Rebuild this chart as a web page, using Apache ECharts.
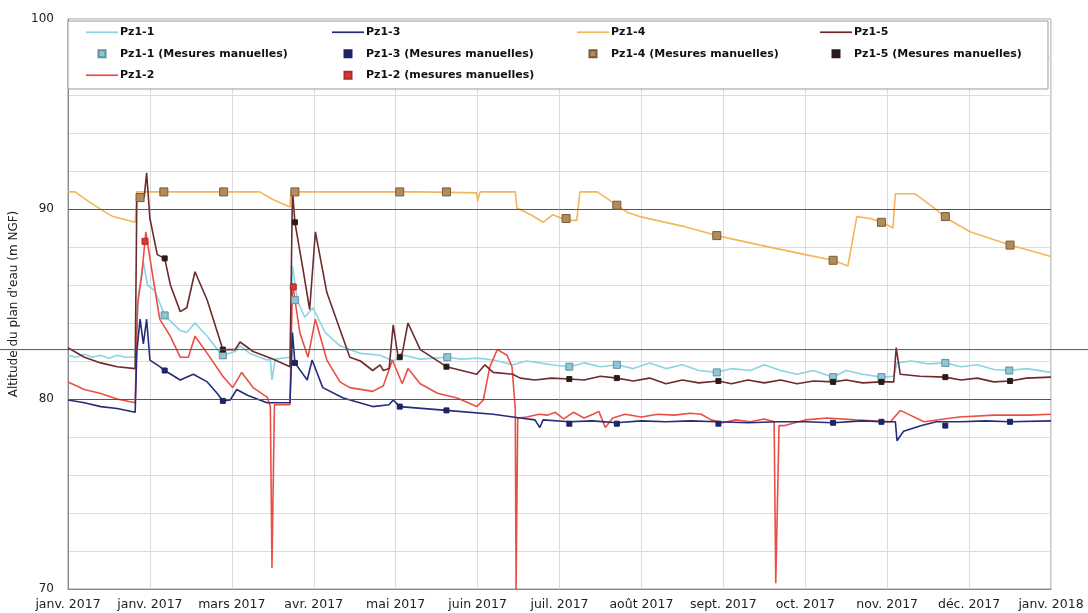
<!DOCTYPE html>
<html><head><meta charset="utf-8">
<script src="https://cdn.jsdelivr.net/npm/echarts@6/dist/echarts.min.js"></script>
<style>html,body{margin:0;padding:0;background:#fff}#c{width:1088px;height:613px}</style>
</head><body><div id="c"></div>
<script>
// ---- data (x in months from the axis origin, y in m NGF) ----
const xLabels = ['janv. 2017','janv. 2017','mars 2017','avr. 2017','mai 2017','juin 2017','juil. 2017','août 2017','sept. 2017','oct. 2017','nov. 2017','déc. 2017','janv. 2018'];
const yRange = [70, 100];
const darkLevels = [80, 90];
const crossLevel = 82.6;

const pz11 = [[0,82.3],[0.1,82.2],[0.2,82.35],[0.3,82.2],[0.4,82.3],[0.5,82.15],[0.6,82.3],[0.7,82.2],[0.82,82.2],[0.86,85.5],[0.92,87.2],[0.97,86.0],[1.06,85.7],[1.18,84.4],[1.37,83.6],[1.45,83.5],[1.55,84.0],[1.70,83.3],[1.86,82.4],[1.89,82.3],[2.04,82.5],[2.10,82.8],[2.22,82.4],[2.43,82.05],[2.47,82.1],[2.49,81.0],[2.53,82.1],[2.71,82.2],[2.74,87.0],[2.80,85.2],[2.89,84.3],[2.99,84.8],[3.14,83.5],[3.32,82.8],[3.57,82.4],[3.81,82.3],[3.97,82.0],[4.1,82.3],[4.30,82.1],[4.63,82.2],[4.8,82.1],[5.0,82.15],[5.19,82.05],[5.43,81.8],[5.6,82.0],[5.76,81.9],[5.9,81.8],[6.12,81.7],[6.3,81.9],[6.5,81.7],[6.70,81.8],[6.9,81.6],[7.1,81.9],[7.3,81.6],[7.5,81.8],[7.7,81.5],[7.92,81.4],[8.1,81.6],[8.33,81.5],[8.5,81.8],[8.7,81.5],[8.9,81.3],[9.1,81.5],[9.34,81.15],[9.5,81.5],[9.7,81.3],[9.93,81.15],[10.08,81.2],[10.12,81.9],[10.3,82.0],[10.5,81.85],[10.71,81.9],[10.9,81.7],[11.1,81.8],[11.3,81.55],[11.49,81.5],[11.7,81.6],[12,81.4]];
const pz13 = [[0,79.95],[0.2,79.8],[0.4,79.6],[0.6,79.5],[0.82,79.3],[0.84,82.5],[0.88,84.2],[0.92,82.9],[0.96,84.2],[1.0,82.05],[1.12,81.7],[1.18,81.5],[1.37,81.0],[1.53,81.3],[1.70,80.9],[1.82,80.3],[1.89,79.9],[1.98,79.95],[2.06,80.5],[2.19,80.2],[2.43,79.8],[2.71,79.8],[2.74,83.5],[2.77,81.9],[2.92,81.0],[2.98,82.05],[3.11,80.6],[3.36,80.05],[3.72,79.6],[3.92,79.7],[3.97,79.95],[4.05,79.6],[4.62,79.4],[5.19,79.2],[5.52,79.0],[5.70,78.9],[5.76,78.5],[5.80,78.9],[6.12,78.8],[6.4,78.85],[6.70,78.75],[7.0,78.85],[7.3,78.8],[7.6,78.85],[7.92,78.8],[8.3,78.75],[8.67,78.8],[9.0,78.8],[9.34,78.75],[9.7,78.85],[9.93,78.8],[10.1,78.8],[10.12,77.8],[10.2,78.3],[10.42,78.6],[10.6,78.8],[10.9,78.8],[11.2,78.85],[11.5,78.8],[12,78.85]];
const pz14 = [[0,90.9],[0.085,90.9],[0.25,90.4],[0.43,89.9],[0.55,89.6],[0.82,89.3],[0.84,90.9],[2.34,90.9],[2.5,90.5],[2.71,90.1],[2.72,90.9],[4.3,90.9],[4.99,90.85],[5.0,90.4],[5.03,90.9],[5.46,90.9],[5.48,90.05],[5.65,89.7],[5.80,89.3],[5.92,89.7],[6.09,89.4],[6.21,89.4],[6.25,90.9],[6.46,90.9],[6.84,89.8],[6.98,89.6],[7.5,89.1],[7.92,88.6],[8.45,88.1],[9.0,87.6],[9.34,87.3],[9.52,87.0],[9.63,89.6],[9.79,89.5],[9.94,89.3],[10.07,89.0],[10.10,90.8],[10.34,90.8],[10.56,90.1],[10.73,89.5],[11.01,88.8],[11.50,88.1],[12,87.5]];
const pz15 = [[0,82.7],[0.2,82.2],[0.4,81.9],[0.6,81.7],[0.82,81.6],[0.84,90.5],[0.90,90.8],[0.93,90.6],[0.96,91.9],[1.0,89.5],[1.09,87.6],[1.18,87.4],[1.25,86.0],[1.37,84.6],[1.45,84.8],[1.55,86.7],[1.70,85.2],[1.89,82.6],[2.04,82.6],[2.10,83.0],[2.26,82.5],[2.50,82.1],[2.71,81.7],[2.74,91.0],[2.77,89.3],[2.87,86.8],[2.95,84.7],[3.02,88.8],[3.16,85.6],[3.44,82.2],[3.57,82.0],[3.72,81.5],[3.81,81.8],[3.85,81.5],[3.92,81.6],[3.97,83.9],[4.03,82.2],[4.08,82.4],[4.15,84.0],[4.30,82.6],[4.62,81.7],[4.99,81.3],[5.09,81.8],[5.19,81.4],[5.43,81.3],[5.52,81.1],[5.7,81.0],[5.9,81.1],[6.12,81.05],[6.3,81.0],[6.5,81.2],[6.70,81.1],[6.9,80.95],[7.1,81.1],[7.3,80.8],[7.5,81.0],[7.7,80.85],[7.94,80.95],[8.1,80.8],[8.3,81.0],[8.5,80.85],[8.7,81.0],[8.9,80.8],[9.1,80.95],[9.34,80.9],[9.5,81.0],[9.7,80.85],[9.93,80.9],[10.08,80.9],[10.11,82.7],[10.16,81.3],[10.4,81.2],[10.71,81.15],[10.9,81.0],[11.1,81.1],[11.3,80.9],[11.50,80.95],[11.7,81.1],[12,81.15]];
const pz12 = [[0,80.9],[0.2,80.5],[0.39,80.3],[0.6,80.0],[0.82,79.8],[0.85,85.0],[0.90,86.5],[0.95,88.8],[1.03,86.6],[1.12,84.2],[1.25,83.3],[1.37,82.2],[1.47,82.2],[1.55,83.3],[1.70,82.4],[1.89,81.2],[2.01,80.6],[2.12,81.4],[2.26,80.6],[2.43,80.1],[2.47,79.6],[2.49,71.1],[2.52,79.7],[2.71,79.7],[2.74,86.1],[2.83,83.5],[2.93,82.2],[3.02,84.2],[3.16,82.05],[3.32,80.9],[3.44,80.6],[3.72,80.4],[3.85,80.7],[3.96,82.05],[4.08,80.8],[4.15,81.6],[4.30,80.8],[4.51,80.3],[4.75,80.05],[4.99,79.6],[5.07,79.95],[5.15,81.7],[5.24,82.6],[5.36,82.3],[5.42,81.7],[5.46,79.5],[5.47,70.0],[5.49,79.0],[5.60,79.05],[5.75,79.2],[5.85,79.15],[5.95,79.3],[6.05,78.95],[6.17,79.3],[6.3,79.0],[6.41,79.2],[6.48,79.35],[6.56,78.5],[6.65,79.0],[6.8,79.2],[7.0,79.05],[7.2,79.2],[7.4,79.15],[7.6,79.25],[7.73,79.2],[7.85,78.9],[7.99,78.75],[8.15,78.9],[8.33,78.8],[8.5,78.95],[8.62,78.8],[8.64,70.3],[8.68,78.6],[8.75,78.6],[9.0,78.9],[9.27,79.0],[9.61,78.9],[10.04,78.8],[10.16,79.4],[10.28,79.15],[10.45,78.8],[10.88,79.05],[11.31,79.15],[11.73,79.15],[12,79.2]];

const pz11Man = [[1.18,84.4],[1.89,82.3],[2.77,85.2],[4.63,82.2],[6.12,81.7],[6.70,81.8],[7.92,81.4],[9.34,81.15],[9.93,81.15],[10.71,81.9],[11.49,81.5]];
const pz13Man = [[1.18,81.5],[1.89,79.9],[2.77,81.9],[4.05,79.6],[4.62,79.4],[6.12,78.7],[6.70,78.7],[7.94,78.7],[9.34,78.75],[9.93,78.8],[10.71,78.6],[11.50,78.8]];
const pz14Man = [[0.88,90.6],[1.17,90.9],[1.90,90.9],[2.77,90.9],[4.05,90.9],[4.62,90.9],[6.08,89.5],[6.70,90.2],[7.92,88.6],[9.34,87.3],[9.93,89.3],[10.71,89.6],[11.50,88.1]];
const pz15Man = [[1.18,87.4],[1.89,82.6],[2.77,89.3],[4.05,82.2],[4.62,81.7],[6.12,81.05],[6.70,81.1],[7.94,80.95],[9.34,80.9],[9.93,80.9],[10.71,81.15],[11.50,80.95]];
const pz12Man = [[0.94,88.3],[2.75,85.9]];

// ---- chart ----
const FONT = 'DejaVu Sans, Liberation Sans, Arial, sans-serif';
const chart = echarts.init(document.getElementById('c'), null, {renderer: 'canvas'});
const sq = 'path://M0 0H10V10H0Z';
const ln = 'path://M0 0H30V1.6H0Z';

function lineS(name, data, color, z) {
  return {name, type: 'line', data, symbol: 'none', showSymbol: false, z: z || 2,
    lineStyle: {color, width: 1.6}, itemStyle: {color}, animation: false};
}
function manS(name, data, color, border, size) {
  return {name, type: 'scatter', data, symbol: 'rect', symbolSize: size, z: 5,
    itemStyle: {color, borderColor: border, borderWidth: 1, opacity: 1}, animation: false};
}
const legendCommon = {orient: 'vertical', top: 26, padding: 0, itemWidth: 32, itemHeight: 7,
  itemGap: 9, selectedMode: false,
  textStyle: {fontFamily: FONT, fontSize: 11, fontWeight: 'bold', color: '#111', lineHeight: 12.5, padding: [0,0,0,-3]}};

const option = {
  backgroundColor: '#fff',
  animation: false,
  grid: {left: 68, right: 37, top: 19, bottom: 24, show: true, borderColor: '#999', borderWidth: 1},
  xAxis: {type: 'value', min: 0, max: 12, interval: 1,
    axisLine: {show: true, lineStyle: {color: '#888'}}, axisTick: {show: false},
    splitLine: {show: true, lineStyle: {color: '#dcdcdc', width: 1}},
    axisLabel: {formatter: v => xLabels[Math.round(v)], color: '#222', fontFamily: FONT, fontSize: 12.5, margin: 9}},
  yAxis: {type: 'value', min: yRange[0], max: yRange[1], interval: 2,
    name: "Altitude du plan d'eau (m NGF)", nameLocation: 'middle', nameGap: 45, nameRotate: 90,
    nameTextStyle: {fontFamily: FONT, fontSize: 12, color: '#222'},
    axisLine: {show: true, lineStyle: {color: '#888'}}, axisTick: {show: false},
    splitLine: {show: true, lineStyle: {color: '#dcdcdc', width: 1}},
    axisLabel: {formatter: v => (v % 10 === 0 ? String(v) : ''), color: '#222', fontFamily: FONT, fontSize: 12, margin: 14}},
  legend: [
    Object.assign({left: 86, data: [{name: 'Pz1-1', icon: ln}, {name: 'Pz1-1 (Mesures manuelles)', icon: sq}, {name: 'Pz1-2', icon: ln}]}, legendCommon),
    Object.assign({left: 332, data: [{name: 'Pz1-3', icon: ln}, {name: 'Pz1-3 (Mesures manuelles)', icon: sq}, {name: 'Pz1-2 (mesures manuelles)', icon: sq}]}, legendCommon),
    Object.assign({left: 577, data: [{name: 'Pz1-4', icon: ln}, {name: 'Pz1-4 (Mesures manuelles)', icon: sq}]}, legendCommon),
    Object.assign({left: 820, data: [{name: 'Pz1-5', icon: ln}, {name: 'Pz1-5 (Mesures manuelles)', icon: sq}]}, legendCommon)
  ],
  series: [
    Object.assign(lineS('Pz1-4', pz14, '#f4b65a'), {
      markLine: {silent: true, symbol: 'none', label: {show: false}, animation: false,
        lineStyle: {color: '#555', width: 1, type: 'solid'},
        data: darkLevels.map(v => ({yAxis: v}))}}),
    lineS('Pz1-1', pz11, '#8ad4e4'),
    lineS('Pz1-2', pz12, '#ea4f46'),
    lineS('Pz1-5', pz15, '#6e2a2c', 3),
    lineS('Pz1-3', pz13, '#262c78', 3),
    manS('Pz1-1 (Mesures manuelles)', pz11Man, '#8fc6d6', '#5f8fa0', 7),
    manS('Pz1-3 (Mesures manuelles)', pz13Man, '#1c2466', '#1c2466', 5),
    manS('Pz1-4 (Mesures manuelles)', pz14Man, '#b28c5c', '#7a5a36', 8),
    manS('Pz1-5 (Mesures manuelles)', pz15Man, '#2a1a1a', '#2a1a1a', 5),
    manS('Pz1-2 (mesures manuelles)', pz12Man, '#d33a36', '#b02a28', 6)
  ]
};
chart.setOption(option);

const yCross = chart.convertToPixel({gridIndex: 0}, [0, crossLevel])[1];
const tl = chart.convertToPixel({gridIndex: 0}, [0, yRange[1]]);
const br = chart.convertToPixel({gridIndex: 0}, [12, yRange[0]]);
chart.setOption({graphic: [
  {type: 'rect', z: 3, shape: {x: tl[0], y: tl[1] + 2, width: br[0] - tl[0] - 3, height: 68},
    style: {fill: '#fff', stroke: '#999', lineWidth: 1}},
  {type: 'line', z: 10, shape: {x1: 0, y1: yCross, x2: 1088, y2: yCross},
    style: {stroke: '#555', lineWidth: 1}}
]});
</script></body></html>
